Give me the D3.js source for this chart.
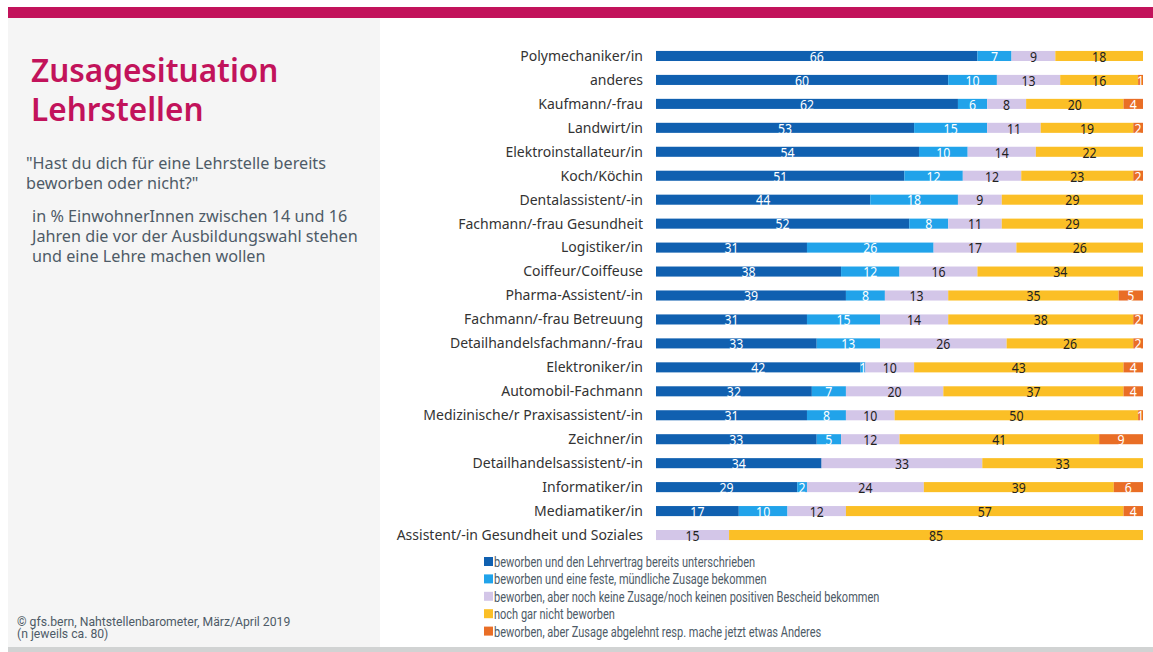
<!DOCTYPE html>
<html>
<head>
<meta charset="utf-8">
<script src="https://cdn.jsdelivr.net/npm/d3@7"></script>
<style>
  body { margin: 0; background: #fff; }
  svg { display: block; font-family: "Noto Sans", sans-serif; }
</style>
</head>
<body>
<div class="chart"></div>
<script>
const categories = [
  "Polymechaniker/in", "anderes", "Kaufmann/-frau", "Landwirt/in",
  "Elektroinstallateur/in", "Koch/Köchin", "Dentalassistent/-in",
  "Fachmann/-frau Gesundheit", "Logistiker/in", "Coiffeur/Coiffeuse",
  "Pharma-Assistent/-in", "Fachmann/-frau Betreuung",
  "Detailhandelsfachmann/-frau", "Elektroniker/in", "Automobil-Fachmann",
  "Medizinische/r Praxisassistent/-in", "Zeichner/in",
  "Detailhandelsassistent/-in", "Informatiker/in", "Mediamatiker/in",
  "Assistent/-in Gesundheit und Soziales"
];
const unterschrieben = [66, 60, 62, 53, 54, 51, 44, 52, 31, 38, 39, 31, 33, 42, 32, 31, 33, 34, 29, 17, 0];
const muendlich      = [7, 10, 6, 15, 10, 12, 18, 8, 26, 12, 8, 15, 13, 1, 7, 8, 5, 0, 2, 10, 0];
const keineZusage    = [9, 13, 8, 11, 14, 12, 9, 11, 17, 16, 13, 14, 26, 10, 20, 10, 12, 33, 24, 12, 15];
const nichtBeworben  = [18, 16, 20, 19, 22, 23, 29, 29, 26, 34, 35, 38, 26, 43, 37, 50, 41, 33, 39, 57, 85];
const abgelehnt      = [0, 1, 4, 2, 0, 2, 0, 0, 0, 0, 5, 2, 2, 4, 4, 1, 9, 0, 6, 4, 0];

const seriesNames = [
  "beworben und den Lehrvertrag bereits unterschrieben",
  "beworben und eine feste, mündliche Zusage bekommen",
  "beworben, aber noch keine Zusage/noch keinen positiven Bescheid bekommen",
  "noch gar nicht beworben",
  "beworben, aber Zusage abgelehnt resp. mache jetzt etwas Anderes"
];
const seriesValues = [unterschrieben, muendlich, keineZusage, nichtBeworben, abgelehnt];
const colors = ["#1060b0", "#21a3ea", "#d3c6e8", "#fbbf26", "#e96e26"];
const labelColors = ["#fff", "#fff", "#222", "#222", "#fff"];

const W = 1153, H = 652;
const svg = d3.select(".chart").append("svg")
  .attr("width", W)
  .attr("height", H);

// frame
svg.append("rect").attr("x", 8).attr("y", 7).attr("width", W - 8).attr("height", 11).attr("fill", "#c2135b");
svg.append("rect").attr("x", 8).attr("y", 18).attr("width", 372).attr("height", 630).attr("fill", "#f5f5f5");
svg.append("rect").attr("x", 8).attr("y", 647).attr("width", W - 8).attr("height", 5).attr("fill", "#d1d3d3");

// left panel text
svg.append("g")
  .attr("fill", "#c2135b")
  .attr("font-size", 31.5)
  .attr("font-weight", 600)
  .selectAll("text")
  .data(["Zusagesituation", "Lehrstellen"])
  .join("text")
  .attr("x", 31)
  .attr("y", (d, i) => 82 + i * 39)
  .text(d => d);

const textLines = [
  ["\"Hast du dich für eine Lehrstelle bereits", 26, 169],
  ["beworben oder nicht?\"", 26, 189],
  ["in % EinwohnerInnen zwischen 14 und 16", 32, 222],
  ["Jahren die vor der Ausbildungswahl stehen", 32, 242],
  ["und eine Lehre machen wollen", 32, 262]
];
svg.append("g")
  .attr("fill", "#4e5b67")
  .attr("font-size", 16.2)
  .selectAll("text")
  .data(textLines)
  .join("text")
  .attr("x", d => d[1])
  .attr("y", d => d[2])
  .text(d => d[0]);

svg.append("g")
  .attr("fill", "#4e5b67")
  .attr("font-family", "Roboto, sans-serif")
  .attr("font-size", 12.2)
  .selectAll("text")
  .data(["©  gfs.bern, Nahtstellenbarometer, März/April 2019", "(n jeweils ca. 80)"])
  .join("text")
  .attr("x", 17)
  .attr("y", (d, i) => 626 + i * 12)
  .text(d => d);

// chart
const rows = categories.map((c, i) => {
  const r = { cat: c };
  seriesValues.forEach((s, k) => r["s" + k] = s[i]);
  return r;
});
const keys = seriesValues.map((s, k) => "s" + k);
const stacked = d3.stack().keys(keys)(rows);

const x = d3.scaleLinear().domain([0, 100]).range([656, 1143]);
const y = d3.scaleBand().domain(categories).range([44, 547])
  .paddingInner(0.58).paddingOuter(0.29);

svg.append("defs").append("clipPath").attr("id", "plot")
  .append("rect").attr("x", 656).attr("y", 30).attr("width", 487).attr("height", 530);

svg.append("g")
  .attr("font-size", 14)
  .attr("fill", "#333")
  .attr("text-anchor", "end")
  .selectAll("text")
  .data(categories)
  .join("text")
  .attr("x", 643)
  .attr("y", d => y(d) + y.bandwidth() / 2)
  .attr("dy", "0.35em")
  .text(d => d);

const layer = svg.append("g").selectAll("g")
  .data(stacked)
  .join("g")
  .attr("fill", (d, i) => colors[i]);

layer.selectAll("rect")
  .data(d => d.filter(p => p[1] - p[0] > 0))
  .join("rect")
  .attr("x", p => x(p[0]))
  .attr("y", p => y(p.data.cat))
  .attr("width", p => x(p[1]) - x(p[0]))
  .attr("height", y.bandwidth());

const labels = svg.append("g")
  .attr("clip-path", "url(#plot)")
  .attr("font-size", 14.5)
  .attr("text-anchor", "middle")
  .selectAll("g")
  .data(stacked)
  .join("g")
  .attr("fill", (d, i) => labelColors[i]);

labels.selectAll("text")
  .data(d => d.filter(p => p[1] - p[0] > 0))
  .join("text")
  .attr("x", p => (x(p[0]) + x(p[1])) / 2)
  .attr("y", p => y(p.data.cat) + y.bandwidth() / 2)
  .attr("dy", "0.4em")
  .attr("transform", p => {
    const cx = (x(p[0]) + x(p[1])) / 2;
    return `translate(${cx},0) scale(0.85,1) translate(${-cx},0)`;
  })
  .text(p => p[1] - p[0]);

// legend
const legend = svg.append("g").selectAll("g")
  .data(seriesNames)
  .join("g")
  .attr("transform", (d, i) => `translate(484, ${562 + i * 17.4})`);

legend.append("rect")
  .attr("x", 0).attr("y", -5)
  .attr("width", 9).attr("height", 9)
  .attr("fill", (d, i) => colors[i]);

legend.append("text")
  .attr("dy", "0.35em")
  .attr("font-family", "Roboto, sans-serif")
  .attr("font-size", 14.5)
  .attr("fill", "#4e5b67")
  .attr("transform", "translate(10,0) scale(0.76,1)")
  .text(d => d);
</script>
</body>
</html>
